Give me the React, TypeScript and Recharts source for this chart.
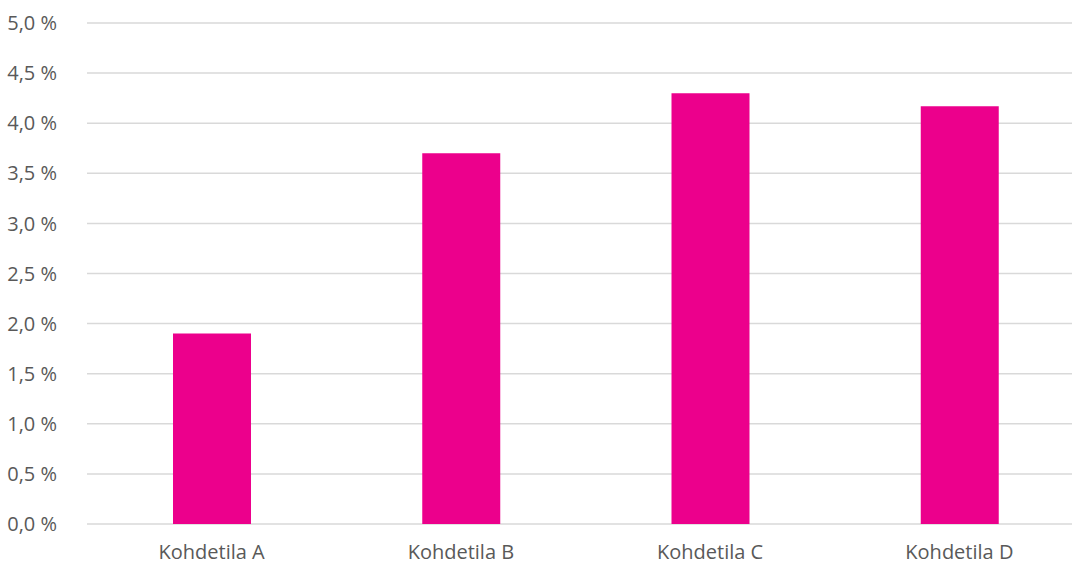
import { Bar, BarChart, CartesianGrid, XAxis, YAxis } from 'recharts';

const categories = ['Kohdetila A', 'Kohdetila B', 'Kohdetila C', 'Kohdetila D'];
const shares = [1.9, 3.7, 4.3, 4.17];
const yTicks = [0, 0.5, 1, 1.5, 2, 2.5, 3, 3.5, 4, 4.5, 5];

const data = categories.map((name, i) => ({ name, value: shares[i] }));

const FONT = '"Open Sans", sans-serif';
const formatPct = (v: number) => `${v.toFixed(1).replace('.', ',')} %`;

export default function App() {
  return (
    <div style={{ position: 'absolute', left: 0, top: 0, width: 1072, height: 564, overflow: 'hidden', background: '#fff' }}>
      <BarChart
        width={1084}
        height={564}
        data={data}
        margin={{ top: 23, right: 0, bottom: 0, left: 0 }}
      >
        <CartesianGrid vertical={false} stroke="#d9d9d9" strokeWidth={1.5} x={87} width={997} />
        <XAxis
          dataKey="name"
          height={40}
          axisLine={false}
          tickLine={false}
          tick={{ fill: '#595959', fontSize: 20, fontFamily: FONT }}
          tickMargin={15}
        />
        <YAxis
          width={87}
          domain={[0, 5]}
          ticks={yTicks}
          interval={0}
          axisLine={false}
          tickLine={false}
          tickFormatter={formatPct}
          tick={{ fill: '#595959', fontSize: 20, fontFamily: FONT }}
          tickMargin={24}
        />
        <Bar dataKey="value" fill="#ec008c" barSize={78} isAnimationActive={false} />
      </BarChart>
    </div>
  );
}
